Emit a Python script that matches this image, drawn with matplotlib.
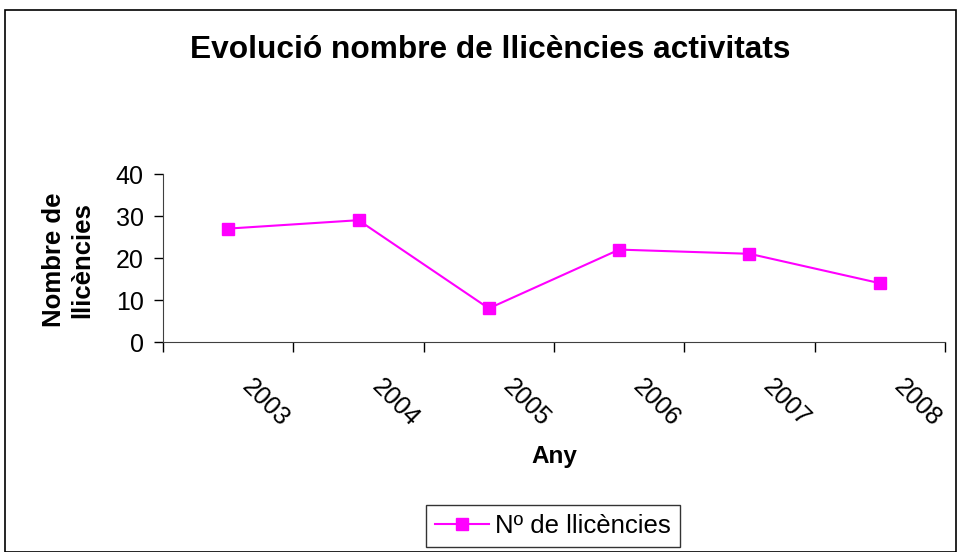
import matplotlib.pyplot as plt
import matplotlib.transforms as mtransforms
from matplotlib.patches import Rectangle

plt.rcParams['font.family'] = ['Liberation Sans', 'DejaVu Sans']

# data
years = ['2003', '2004', '2005', '2006', '2007', '2008']
llicencies = [27, 29, 8, 22, 21, 14]
y_ticks = [0, 10, 20, 30, 40]

W, H = 958, 552
fig = plt.figure(figsize=(W / 100, H / 100), dpi=100)

# outer frame of the chart
fig.patches.append(Rectangle((5 / W, 0), 951 / W, 1 - 10 / H, transform=fig.transFigure,
                             fill=False, edgecolor='black', linewidth=1.2))

ax = fig.add_axes([163 / W, 1 - 342 / H, (945 - 163) / W, (342 - 174) / H])
x = list(range(len(years)))
ax.plot(x, llicencies, color='#FF00FF', linewidth=1.5, marker='s', markersize=8.5,
        label='Nº de llicències')

ax.set_xlim(-0.5, len(years) - 0.5)
ax.set_ylim(0, 40)
ax.set_yticks(y_ticks)
ax.tick_params(axis='y', labelsize=18, length=6.5, width=1, direction='out', pad=7.5)

# tick marks between categories, labels at category centres
ax.set_xticks([i - 0.5 for i in range(len(years) + 1)], minor=True)
ax.set_xticks(x)
ax.set_xticklabels(years, rotation=-45, ha='left', va='top')
ax.tick_params(axis='x', which='major', length=0, labelsize=18, pad=23.5)
ax.tick_params(axis='x', which='minor', length=7, width=1, direction='out')
shift = mtransforms.ScaledTranslation(9 / 100, 0, fig.dpi_scale_trans)
for lab in ax.get_xticklabels():
    lab.set_transform(lab.get_transform() + shift)

for side in ['top', 'right']:
    ax.spines[side].set_visible(False)
for side in ['left', 'bottom']:
    ax.spines[side].set_color('#404040')

fig.text(490 / W, 1 - 50 / H, 'Evolució nombre de llicències activitats',
         ha='center', va='center', fontsize=22.8, fontweight='bold')
fig.text(68 / W, 1 - 260 / H, 'Nombre de\nllicències', ha='center', va='center',
         rotation=90, fontsize=18.5, fontweight='bold', linespacing=1.25)
fig.text(554 / W, 1 - 457 / H, 'Any', ha='center', va='center', fontsize=17.5, fontweight='bold')

leg = ax.legend(loc='center', bbox_to_anchor=(553 / W, 1 - 526 / H), bbox_transform=fig.transFigure,
                fontsize=18.5, frameon=True, fancybox=False, edgecolor='black',
                handlelength=2.1, handletextpad=0.25, borderpad=0.35)
leg.get_frame().set_linewidth(1)

fig.savefig('out.png', dpi=100)
